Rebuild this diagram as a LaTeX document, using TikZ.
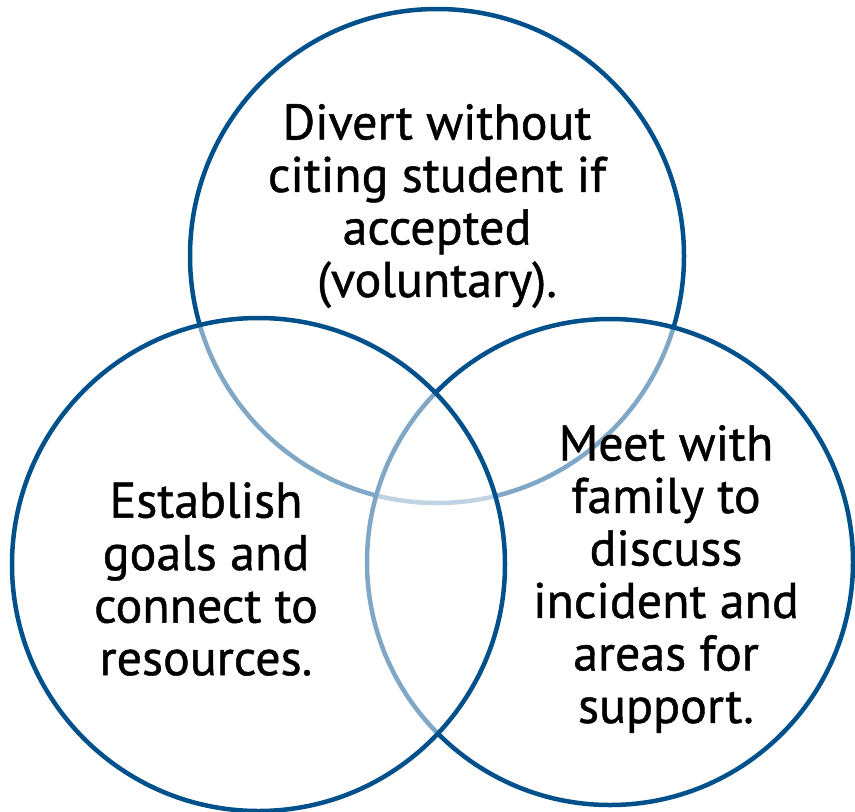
\documentclass[tikz,border=0pt]{standalone}
\usepackage{fontspec}
\newfontfamily\vennfont{PT Sans}[FakeBold=0.9]
\definecolor{vennblue}{RGB}{0,80,140}
\tikzset{
  venn/.style={draw=vennblue, line width=4.5pt, fill=white, fill opacity=0.5, draw opacity=1},
  label/.style={align=center, text=black, font=\vennfont\fontsize{50}{52.5}\selectfont, inner sep=0pt}
}
\begin{document}
\begin{tikzpicture}[x=1pt,y=-1pt]
\useasboundingbox[fill=white] (0,0) rectangle (855,812);
\draw[venn] (437,256) circle[radius=247] coordinate (ctop);
\draw[venn] (610,562) circle[radius=243] coordinate (cright);
\draw[venn] (258.5,564.5) circle[radius=246.5] coordinate (cleft);
\node[label] (ttop) at (437,206) {Divert without\\citing student if\\accepted\\(voluntary).};
\node[label] (tleft) at (206,579) {Establish\\goals and\\connect to\\resources.};
\node[label] (tright) at (666,579) {Meet with\\family to\\discuss\\incident and\\areas for\\support.};
\end{tikzpicture}
\end{document}
